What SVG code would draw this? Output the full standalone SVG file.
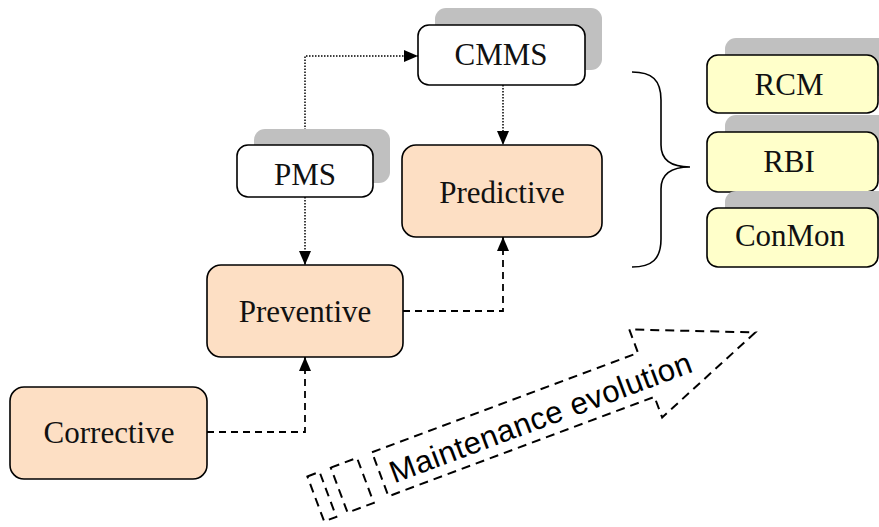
<svg xmlns="http://www.w3.org/2000/svg" width="879" height="527" viewBox="0 0 879 527">
  <defs>
    <marker id="arrowhead" viewBox="0 0 14 12" refX="14" refY="6" markerWidth="14" markerHeight="12" markerUnits="userSpaceOnUse" orient="auto">
      <path d="M0,0 L14,6 L0,12 Z" fill="#000"/>
    </marker>
  </defs>
  <style>
    .box { stroke: #000; stroke-width: 1.6; }
    .stage { fill: #fddfc4; }
    .tool { fill: #ffffff; }
    .method { fill: #ffffca; }
    .shadow { fill: #c0c0c0; }
    .label { font-family: "Liberation Serif", "Times New Roman", serif; font-size: 31px; fill: #111; text-anchor: middle; }
    .dotted { fill: none; stroke: #000; stroke-width: 1.5; stroke-dasharray: 1.5 1.5; }
    .dashed { fill: none; stroke: #000; stroke-width: 1.8; stroke-dasharray: 7 5; }
    .evo { fill: none; stroke: #000; stroke-width: 2; stroke-dasharray: 9 6; }
    .evo-text { font-family: "Liberation Sans", Arial, sans-serif; font-size: 31px; fill: #000; }
  </style>

  <rect width="879" height="527" fill="#fff"/>

  <!-- connectors -->
  <g id="connectors">
    <path class="dotted" d="M305,145 V56 H418" marker-end="url(#arrowhead)"/>
    <path class="dotted" d="M305,197 V265" marker-end="url(#arrowhead)"/>
    <path class="dotted" d="M503,85 V145" marker-end="url(#arrowhead)"/>
    <path class="dashed" d="M403,311 H503 V237" marker-end="url(#arrowhead)"/>
    <path class="dashed" d="M207,432 H305 V357" marker-end="url(#arrowhead)"/>
  </g>

  <!-- stages -->
  <g id="corrective">
    <rect class="box stage" x="10" y="387" width="197" height="92" rx="14"/>
    <text class="label" x="109" y="443">Corrective</text>
  </g>
  <g id="preventive">
    <rect class="box stage" x="207" y="265" width="196" height="92" rx="14"/>
    <text class="label" x="305" y="322">Preventive</text>
  </g>
  <g id="predictive">
    <rect class="box stage" x="402" y="145" width="200" height="92" rx="14"/>
    <text class="label" x="502" y="203">Predictive</text>
  </g>

  <!-- management systems -->
  <g id="pms">
    <rect class="shadow" x="254" y="129" width="136" height="54" rx="11"/>
    <rect class="box tool" x="237" y="145" width="136" height="52" rx="11"/>
    <text class="label" x="305" y="185">PMS</text>
  </g>
  <g id="cmms">
    <rect class="shadow" x="435" y="8" width="167" height="62" rx="11"/>
    <rect class="box tool" x="418" y="25" width="167" height="60" rx="11"/>
    <text class="label" x="501" y="65">CMMS</text>
  </g>

  <!-- brace grouping the predictive methods -->
  <g id="brace">
    <path d="M632,72 C652,72 661,80 661,100 V145 C661,160 672,167 690,167 C672,167 661,174 661,189 V239 C661,259 652,267 632,267" fill="none" stroke="#000" stroke-width="1.6"/>
  </g>

  <!-- predictive methods -->
  <g id="rcm">
    <rect class="shadow" x="725" y="38" width="171" height="58" rx="11"/>
    <rect class="box method" x="707" y="55" width="171" height="58" rx="11"/>
    <text class="label" x="789" y="95">RCM</text>
  </g>
  <g id="rbi">
    <rect class="shadow" x="725" y="115" width="171" height="60" rx="11"/>
    <rect class="box method" x="707" y="132" width="171" height="60" rx="11"/>
    <text class="label" x="789" y="172">RBI</text>
  </g>
  <g id="conmon">
    <rect class="shadow" x="725" y="191" width="171" height="59" rx="11"/>
    <rect class="box method" x="707" y="208" width="171" height="59" rx="11"/>
    <text class="label" x="790" y="246">ConMon</text>
  </g>

  <!-- striped evolution arrow -->
  <g id="evolution" transform="translate(633,328) rotate(-20.5)">
    <rect class="evo" x="-357" y="25" width="13" height="48"/>
    <rect class="evo" x="-332" y="25" width="28" height="48"/>
    <path class="evo" d="M-288,25 L-4,25 L-4,0 L113,47 L-4,94 L-4,72 L-288,72 Z"/>
    <text class="evo-text" x="-278" y="62" textLength="320" lengthAdjust="spacing">Maintenance evolution</text>
  </g>
</svg>
